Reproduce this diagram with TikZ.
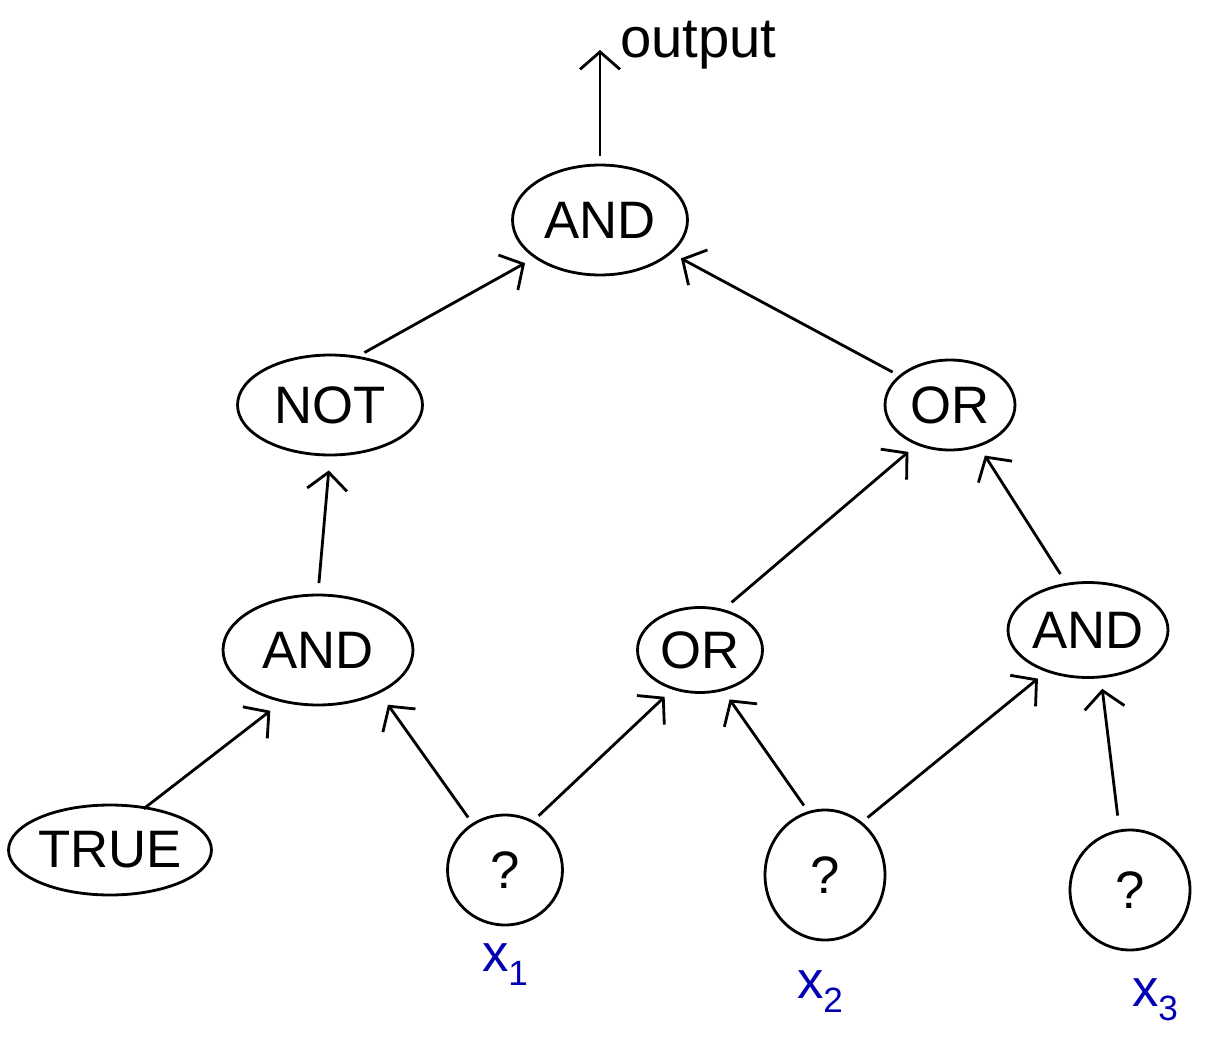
\documentclass[tikz,border=0pt]{standalone}
\usepackage{fontspec}
\setmainfont{Liberation Sans}
\usetikzlibrary{shapes.geometric,arrows.meta}
\begin{document}
\begin{tikzpicture}[x=0.02cm,y=-0.02cm,
  gate/.style={ellipse,draw,line width=1.6pt,inner sep=0pt,
    font=\fontsize{30}{36}\selectfont},
  link/.style={line width=1.6pt,-{Straight Barb[length=3.5mm,width=8mm,line width=1.6pt]}},
  varlabel/.style={text=blue!70!black,font=\fontsize{30}{34}\selectfont}]
  \useasboundingbox (0,0) rectangle (1206,1044);

  % gates
  \node[gate,minimum width=3.5cm,minimum height=2.2cm] (andtop) at (600,220) {AND};
  \node[gate,minimum width=3.7cm,minimum height=2.0cm] (not) at (330,405) {NOT};
  \node[gate,minimum width=2.6cm,minimum height=1.8cm] (orr) at (950,405) {OR};
  \node[gate,minimum width=3.8cm,minimum height=2.2cm] (andl) at (318,650) {AND};
  \node[gate,minimum width=2.5cm,minimum height=1.7cm] (orm) at (700,650) {OR};
  \node[gate,minimum width=3.2cm,minimum height=1.9cm] (andr) at (1088,630) {AND};

  % inputs
  \node[gate,minimum width=4.0cm,minimum height=1.8cm] (true) at (110,850) {TRUE};
  \node[gate,minimum width=2.3cm,minimum height=2.2cm] (q1) at (505,870) {?};
  \node[gate,minimum width=2.4cm,minimum height=2.6cm] (q2) at (825,875) {?};
  \node[gate,minimum width=2.4cm,minimum height=2.4cm] (q3) at (1130,890) {?};

  % variable names
  \node[varlabel] (x1) at (505,965) {x\raisebox{-0.5ex}{\fontsize{20}{24}\selectfont 1}};
  \node[varlabel] (x2) at (820,992) {x\raisebox{-0.5ex}{\fontsize{20}{24}\selectfont 2}};
  \node[varlabel] (x3) at (1155,1000) {x\raisebox{-0.5ex}{\fontsize{20}{24}\selectfont 3}};

  % output
  \coordinate (out) at (600,50);
  \node[font=\fontsize{32}{38}\selectfont,anchor=west] (outlabel) at (614,45) {output};
  \draw[link] (andtop.north) ++(0,-8) -- (out);

  % connections
  \draw[link,shorten <=4pt,shorten >=6pt] (not.60) -- (andtop.-150);
  \draw[link,shorten <=4pt,shorten >=6pt] (orr.150) -- (andtop.-25);
  \draw[link,shorten <=6pt,shorten >=8pt] (andl.north) -- (not.south);
  \draw[link,shorten <=6pt,shorten >=6pt] (orm.60) -- (orr.-130);
  \draw[link,shorten <=6pt,shorten >=6pt] (andr.115) -- (orr.-55);
  \draw[link,shorten <=-2pt,shorten >=8pt] (true.50) -- (andl.-125);
  \draw[link,shorten <=4pt,shorten >=8pt] (q1.125) -- (andl.-35);
  \draw[link,shorten <=4pt,shorten >=6pt] (q1.60) -- (orm.-125);
  \draw[link,shorten <=4pt,shorten >=6pt] (q2.105) -- (orm.-60);
  \draw[link,shorten <=4pt,shorten >=6pt] (q2.55) -- (andr.-135);
  \draw[link,shorten <=8pt,shorten >=6pt] (q3.100) -- (andr.-75);
\end{tikzpicture}
\end{document}
